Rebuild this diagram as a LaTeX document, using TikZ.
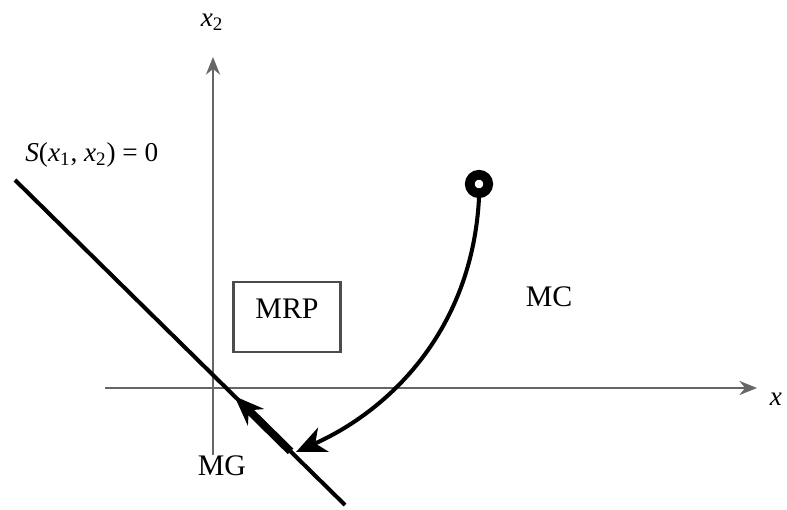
\documentclass[tikz,border=0pt]{standalone}
\usepackage{fontspec}
\setmainfont{Liberation Serif}
\usetikzlibrary{arrows.meta,calc}
\begin{document}
\begin{tikzpicture}[x=0.02cm,y=-0.02cm,
  axis/.style={draw=black!60,line width=1.3pt,-{Stealth[length=10pt,width=8pt]}},
  lbl/.style={font=\fontsize{17}{20}\selectfont,inner sep=0pt},
  small lbl/.style={font=\fontsize{15.5}{18}\selectfont,inner sep=0pt},
  thick line/.style={line width=2.3pt}]
\useasboundingbox (0,0) rectangle (787,510);
% axes
\coordinate (yb) at (213,455); \coordinate (yt) at (213,57);
\coordinate (xl) at (105,388); \coordinate (xr) at (757,388);
\draw[axis] (yb) -- (yt);
\draw[axis] (xl) -- (xr);
\node[small lbl] (x2) at (212,22) {\textit{x}\textsubscript{2}};
\node[small lbl] (x) at (776,399) {\textit{x}};
% sliding surface
\coordinate (s1) at (15,180); \coordinate (s2) at (345,505);
\draw[thick line] (s1) -- (s2);
\node[small lbl,anchor=west] (S) at (25,155) {\textit{S}(\textit{x}\textsubscript{1}, \textit{x}\textsubscript{2}) = 0};
% MRP box
\node[draw=black!70,line width=1.3pt,inner sep=0pt,
  minimum width=2.14cm,minimum height=1.40cm] (mrp) at (287,317) {};
\node[lbl] (mrpt) at (287,309) {MRP};
\node[lbl] (mc) at (549,297) {MC};
\node[lbl] (mg) at (222,466) {MG};
% initial point
\node[circle,draw,line width=5.5pt,minimum size=0.37cm,inner sep=0pt] (p0) at (479,184) {};
\draw[line width=2.3pt,-{Stealth[length=17pt,width=15pt,inset=5pt]}] (p0.south) .. controls (472,330) and (390,410) .. (296,452);
% sliding motion arrow
\coordinate (m1) at ($(s1)!0.835!(s2)$); \coordinate (m2) at ($(s1)!0.665!(s2)$);
\draw[line width=4.5pt,-{Stealth[length=17pt,width=13pt]}] (m1) -- (m2);
\end{tikzpicture}
\end{document}
